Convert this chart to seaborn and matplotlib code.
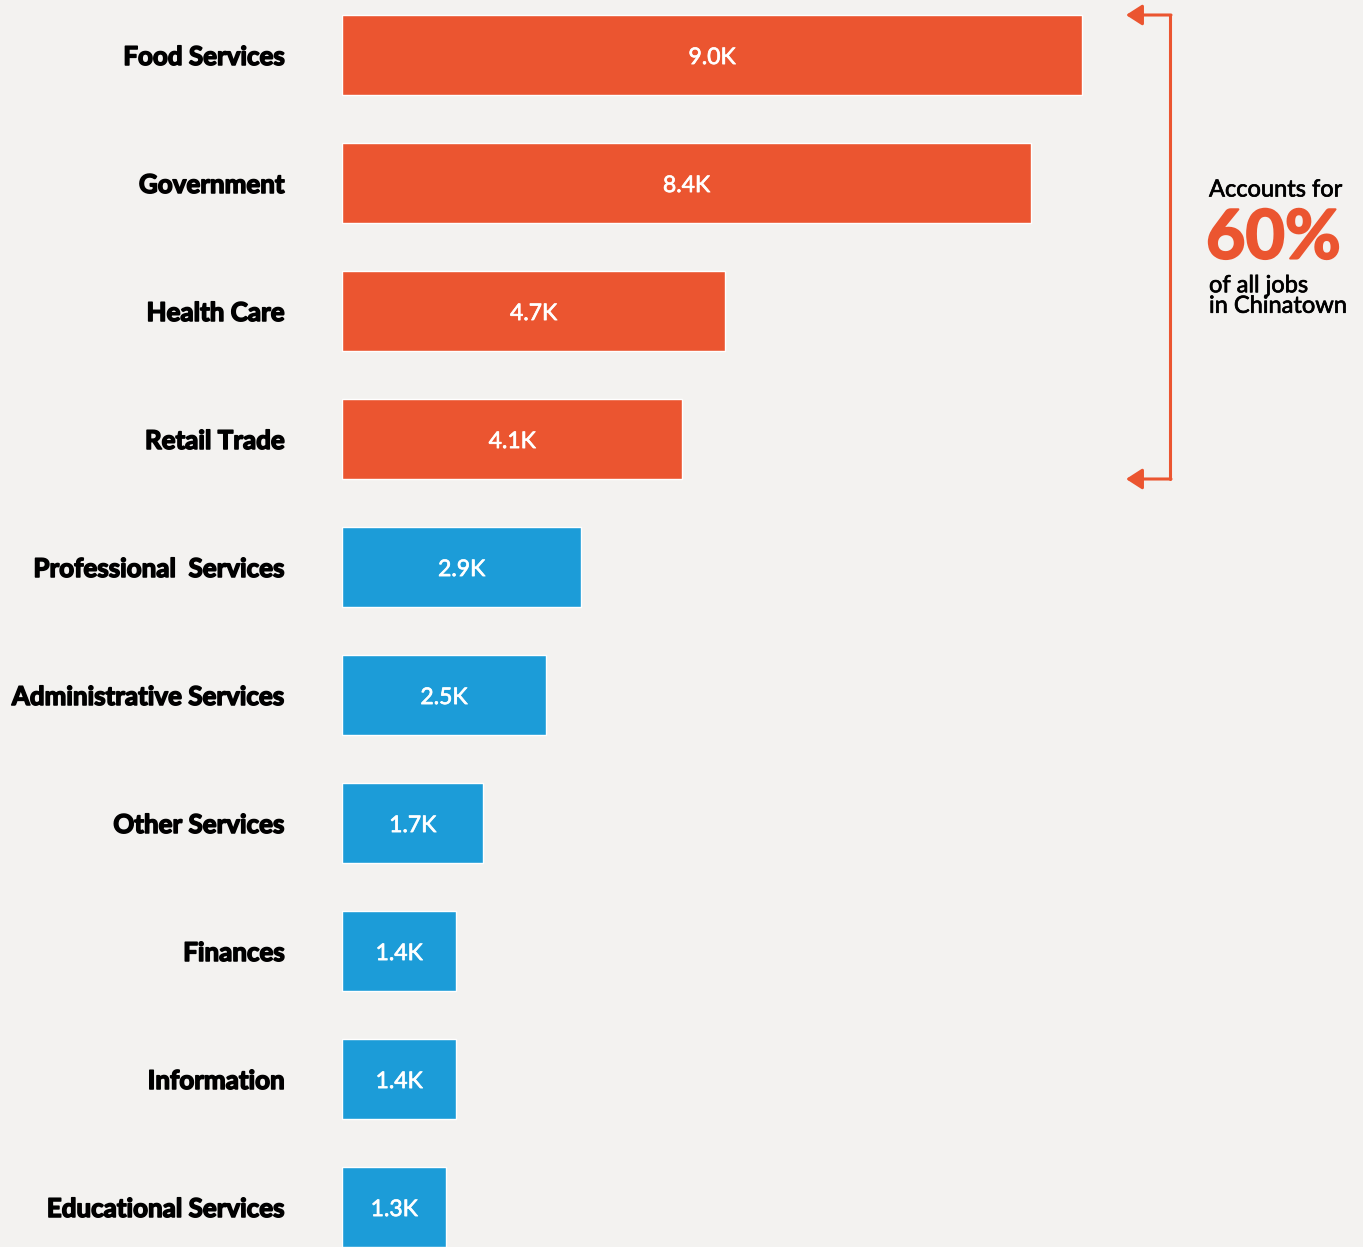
import matplotlib
matplotlib.use("Agg")
import matplotlib.pyplot as plt
import matplotlib.patheffects as pe
import seaborn as sns
import pandas as pd
from matplotlib.patches import FancyArrowPatch

categories = ["Food Services", "Government", "Health Care", "Retail Trade",
              "Professional  Services", "Administrative Services", "Other Services",
              "Finances", "Information", "Educational Services"]
jobs_k = [9.0, 8.38, 4.66, 4.14, 2.91, 2.48, 1.72, 1.39, 1.39, 1.27]
value_labels = ["9.0K", "8.4K", "4.7K", "4.1K", "2.9K", "2.5K", "1.7K", "1.4K", "1.4K", "1.3K"]
groups = ["Top"] * 4 + ["Other"] * 6

BG = "#F3F2F0"
ORANGE = "#EB5530"
BLUE = "#1C9CD8"

df = pd.DataFrame({"category": categories, "jobs": jobs_k, "group": groups})

sns.set_theme(style="white")
plt.rcParams["font.family"] = ["Lato", "DejaVu Sans"]

W, H = 1363, 1247
fig = plt.figure(figsize=(W / 100, H / 100), dpi=100, facecolor=BG)
ax = fig.add_axes([342 / W, 0, 1 - 342 / W, 1])
ax.set_facecolor(BG)

sns.barplot(data=df, x="jobs", y="category", hue="group", orient="h",
            palette={"Top": ORANGE, "Other": BLUE}, dodge=False, width=0.625,
            legend=False, ax=ax, saturation=1)

px_per_k = 740 / 9.0
ax.set_xlim(0, (W - 342) / px_per_k)
ax.set_ylim((H - 55) / 128, -55 / 128)
for s in ax.spines.values():
    s.set_visible(False)
ax.set_xlabel("")
ax.set_ylabel("")
ax.set_xticks([])
ax.tick_params(axis="y", length=0, pad=41)
ax.set_yticks(range(len(categories)))
ax.set_yticklabels(categories, fontsize=18.7, fontweight="bold", color="black")
for t in ax.get_yticklabels():
    t.set_path_effects([pe.withStroke(linewidth=1.1, foreground="black")])

for i, (v, lab) in enumerate(zip(jobs_k, value_labels)):
    t = ax.text(v / 2, i + 0.02, lab, color="white", ha="center", va="center",
                fontsize=16.5)
    t.set_path_effects([pe.withStroke(linewidth=0.5, foreground="white")])

# bracket
def fx(x):
    return x / W

def fy(y):
    return 1 - y / H

fig.add_artist(plt.Line2D([fx(1170), fx(1170)], [fy(15), fy(479)], color=ORANGE,
                          lw=2.2, transform=fig.transFigure))
for yy in (15, 479):
    fig.add_artist(FancyArrowPatch((fx(1171), fy(yy)), (fx(1126), fy(yy)),
                                   transform=fig.transFigure, color=ORANGE, lw=2.2,
                                   arrowstyle="-|>,head_length=0.7,head_width=0.45",
                                   mutation_scale=14, shrinkA=0, shrinkB=0))

sub_fx = [pe.withStroke(linewidth=0.5, foreground="black")]
t1 = fig.text(fx(1209), fy(190), "Accounts for", fontsize=17, color="black",
              ha="left", va="center")
t1.set_path_effects(sub_fx)
t2 = fig.text(fx(1206), fy(239), "60%", fontsize=49, color=ORANGE, fontweight="bold",
              ha="left", va="center")
t2.set_path_effects([pe.withStroke(linewidth=1.5, foreground=ORANGE)])
t3 = fig.text(fx(1209), fy(296), "of all jobs\nin Chinatown", fontsize=17, color="black",
              ha="left", va="center", linespacing=0.97)
t3.set_path_effects(sub_fx)

fig.savefig("out.png", dpi=100, facecolor=BG)
